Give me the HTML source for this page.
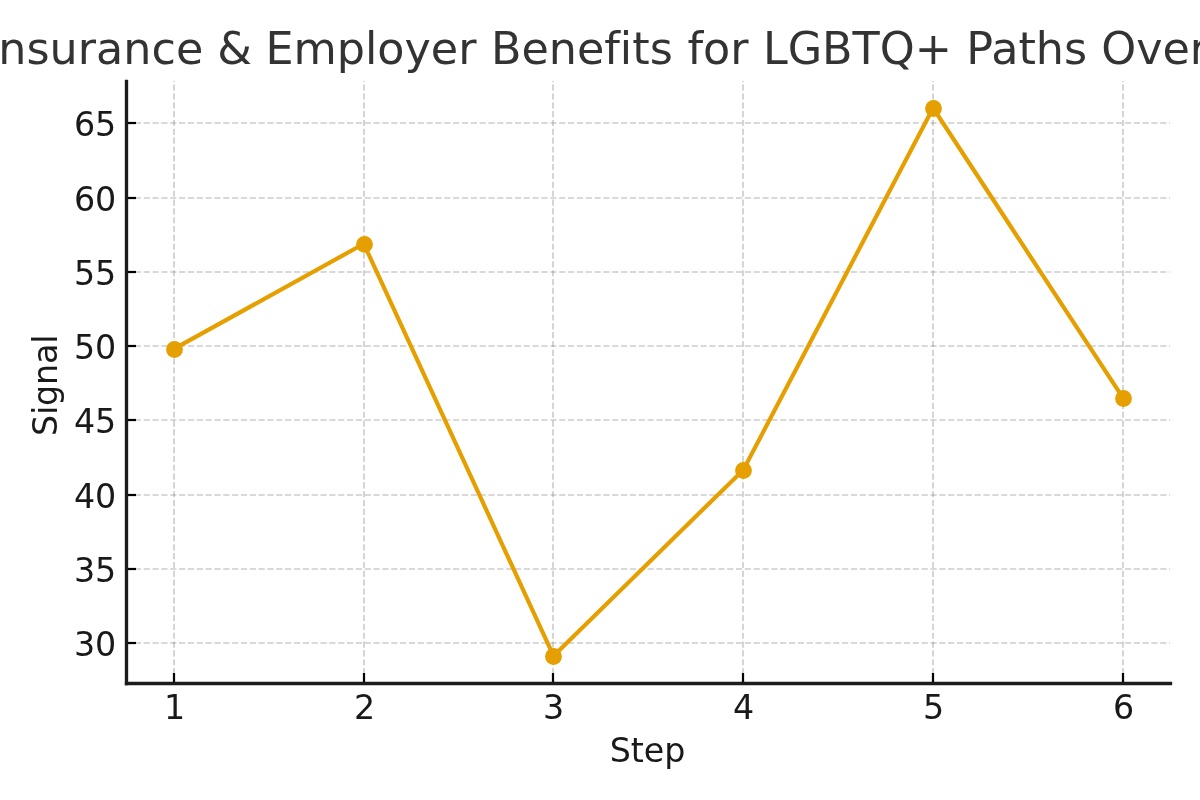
<!DOCTYPE html>
<html lang="en">
<head>
<meta charset="utf-8">
<title>Insurance &amp; Employer Benefits for LGBTQ+ Paths Overview</title>
<style>
html,body{margin:0;padding:0;background:#fff;}
body{width:1200px;height:800px;overflow:hidden;}
svg{display:block;}
svg text{font-family:'DejaVu Sans','Liberation Sans',sans-serif;font-variant-ligatures:none;font-feature-settings:"liga" 0,"clig" 0;font-kerning:normal;}
</style>
</head>
<body>
<svg width="1200" height="800" viewBox="0 0 1200 800">
<rect x="0" y="0" width="1200" height="800" fill="#ffffff"/>
<g stroke="#888888" stroke-width="1.67" stroke-dasharray="6.17 2.67" stroke-opacity="0.42" fill="none">
<line x1="174.00" y1="683.00" x2="174.00" y2="81.00"/>
<line x1="364.00" y1="683.00" x2="364.00" y2="81.00"/>
<line x1="553.00" y1="683.00" x2="553.00" y2="81.00"/>
<line x1="743.00" y1="683.00" x2="743.00" y2="81.00"/>
<line x1="933.00" y1="683.00" x2="933.00" y2="81.00"/>
<line x1="1123.00" y1="683.00" x2="1123.00" y2="81.00"/>
<line x1="126.00" y1="643.00" x2="1170.00" y2="643.00"/>
<line x1="126.00" y1="569.00" x2="1170.00" y2="569.00"/>
<line x1="126.00" y1="495.00" x2="1170.00" y2="495.00"/>
<line x1="126.00" y1="420.00" x2="1170.00" y2="420.00"/>
<line x1="126.00" y1="346.00" x2="1170.00" y2="346.00"/>
<line x1="126.00" y1="272.00" x2="1170.00" y2="272.00"/>
<line x1="126.00" y1="198.00" x2="1170.00" y2="198.00"/>
<line x1="126.00" y1="123.00" x2="1170.00" y2="123.00"/>
</g>
<polyline fill="none" stroke="#E69F00" stroke-width="4.17" stroke-linejoin="round" stroke-linecap="butt" points="174.00,348.90 363.80,243.80 553.50,655.90 743.30,469.90 933.10,108.00 1123.00,397.90"/>
<g fill="#E69F00">
<circle cx="174.50" cy="349.50" r="8.4"/>
<circle cx="364.50" cy="244.40" r="8.4"/>
<circle cx="553.50" cy="656.50" r="8.4"/>
<circle cx="743.50" cy="470.50" r="8.4"/>
<circle cx="933.50" cy="108.50" r="8.4"/>
<circle cx="1123.50" cy="398.50" r="8.4"/>
</g>
<g stroke="#000000" stroke-width="2.22" fill="none">
<line x1="174.00" y1="683.00" x2="174.00" y2="673.00"/>
<line x1="364.00" y1="683.00" x2="364.00" y2="673.00"/>
<line x1="553.00" y1="683.00" x2="553.00" y2="673.00"/>
<line x1="743.00" y1="683.00" x2="743.00" y2="673.00"/>
<line x1="933.00" y1="683.00" x2="933.00" y2="673.00"/>
<line x1="1123.00" y1="683.00" x2="1123.00" y2="673.00"/>
<line x1="126.00" y1="643.00" x2="136.00" y2="643.00"/>
<line x1="126.00" y1="569.00" x2="136.00" y2="569.00"/>
<line x1="126.00" y1="495.00" x2="136.00" y2="495.00"/>
<line x1="126.00" y1="420.00" x2="136.00" y2="420.00"/>
<line x1="126.00" y1="346.00" x2="136.00" y2="346.00"/>
<line x1="126.00" y1="272.00" x2="136.00" y2="272.00"/>
<line x1="126.00" y1="198.00" x2="136.00" y2="198.00"/>
<line x1="126.00" y1="123.00" x2="136.00" y2="123.00"/>
</g>
<g stroke="#1c1c1c" stroke-width="3.33" stroke-linecap="square" fill="none">
<line x1="126.50" y1="683.50" x2="126.50" y2="81.50"/>
<line x1="126.50" y1="683.50" x2="1170.50" y2="683.50"/>
</g>
<g font-size="33.33" fill="#191919">
<text x="174.50" y="719" text-anchor="middle">1</text>
<text x="364.50" y="719" text-anchor="middle">2</text>
<text x="553.50" y="719" text-anchor="middle">3</text>
<text x="743.50" y="719" text-anchor="middle">4</text>
<text x="933.50" y="719" text-anchor="middle">5</text>
<text x="1123.50" y="719" text-anchor="middle">6</text>
<text x="116.3" y="656.10" text-anchor="end">30</text>
<text x="116.3" y="582.10" text-anchor="end">35</text>
<text x="116.3" y="508.10" text-anchor="end">40</text>
<text x="116.3" y="433.10" text-anchor="end">45</text>
<text x="116.3" y="359.10" text-anchor="end">50</text>
<text x="116.3" y="285.10" text-anchor="end">55</text>
<text x="116.3" y="211.10" text-anchor="end">60</text>
<text x="116.3" y="136.10" text-anchor="end">65</text>
<text x="647.6" y="762.3" text-anchor="middle">Step</text>
<text transform="translate(57.2 385.3) rotate(-90)" text-anchor="middle" letter-spacing="-0.2">Signal</text>
</g>
<text y="64" font-size="44.44" fill="#333333" text-anchor="start"><tspan x="-14.80">Insurance</tspan> <tspan x="217.35">&amp;</tspan> <tspan x="265.40">Employer</tspan> <tspan x="490.90">Benefits</tspan> <tspan x="687.40">for</tspan> <tspan x="762.90">LGBTQ+</tspan> <tspan x="966.35">Paths</tspan> <tspan x="1101.25">Overview</tspan></text>
</svg>
</body>
</html>
